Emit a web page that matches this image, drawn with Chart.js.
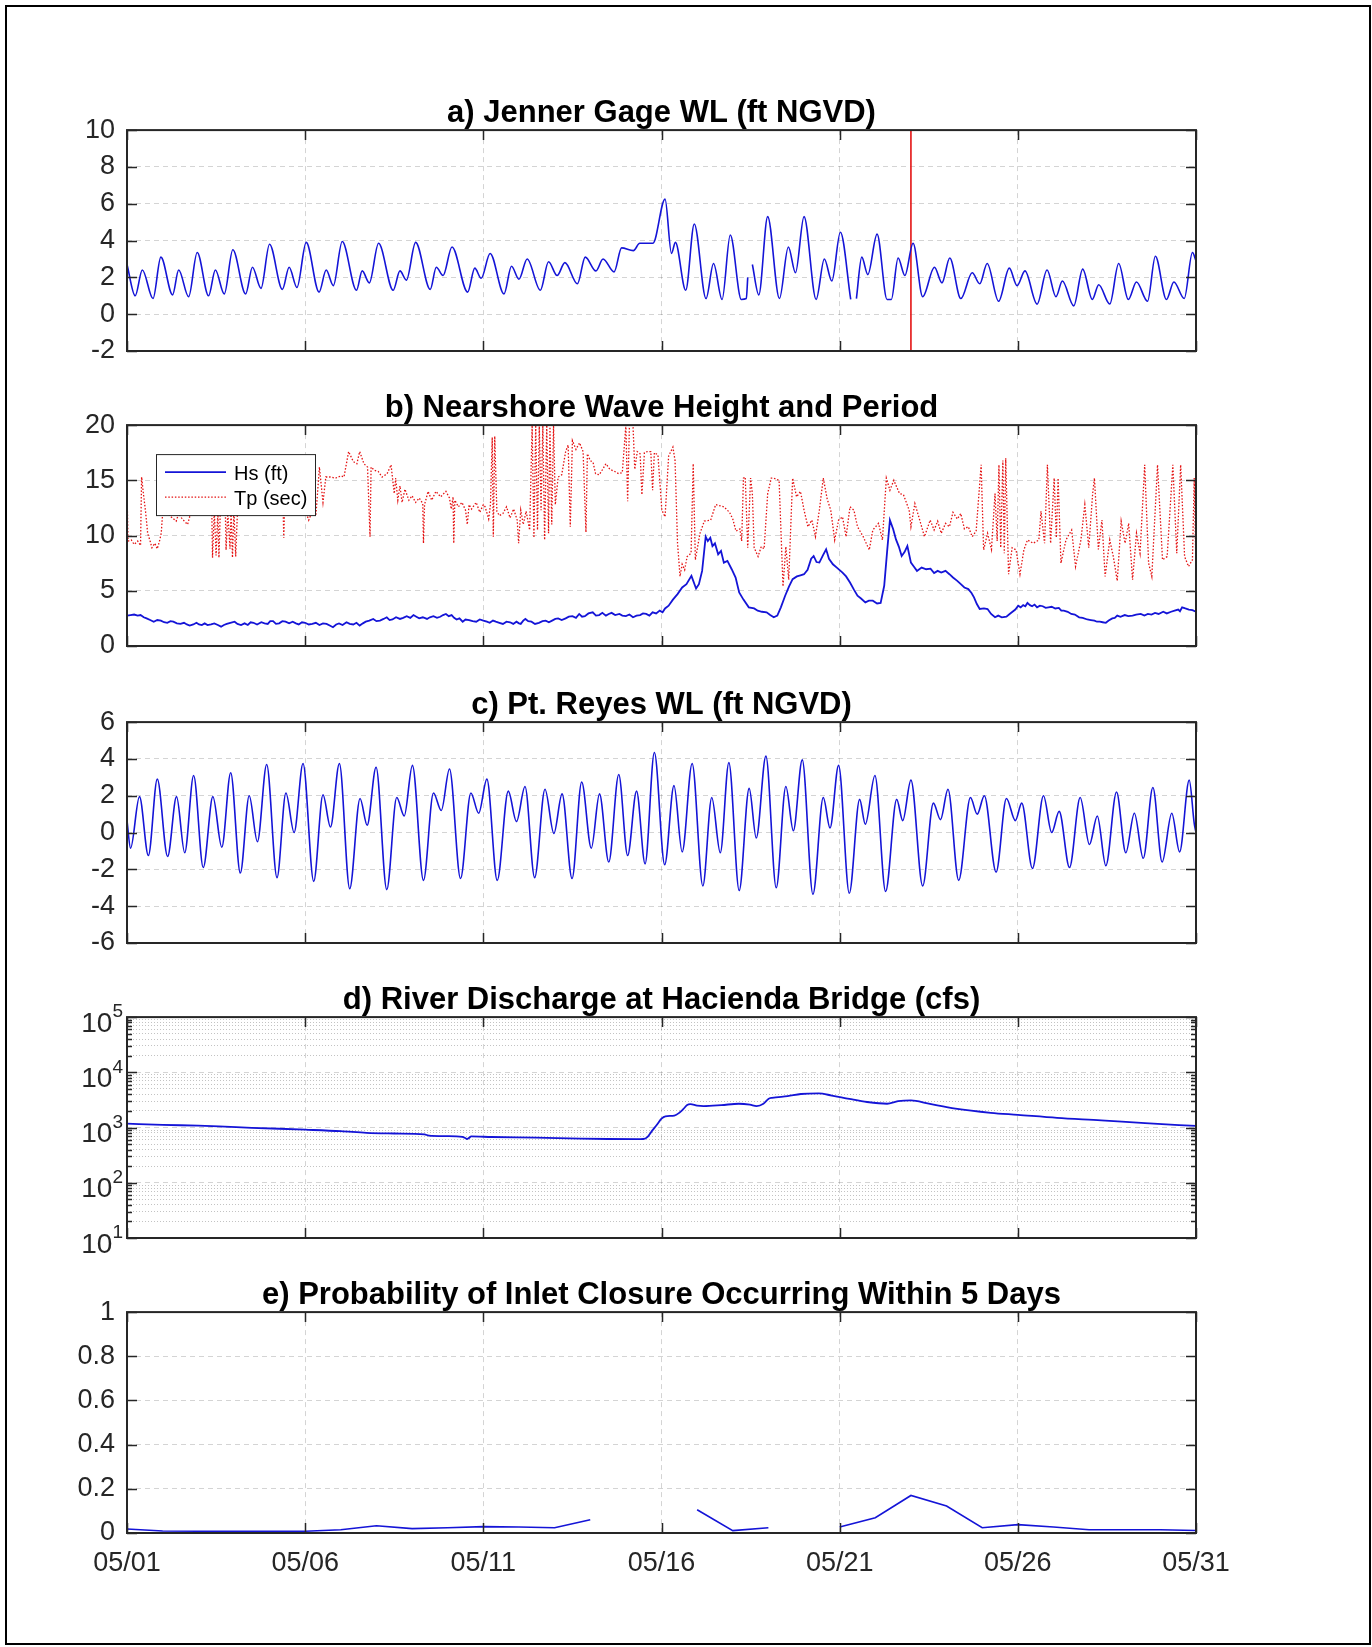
<!DOCTYPE html>
<html>
<head>
<meta charset="utf-8">
<script src="https://cdn.jsdelivr.net/npm/chart.js@4.4.1/dist/chart.umd.min.js"></script>
<style>
  body { margin: 0; background: #fff; }
  #page { position: relative; width: 1372px; height: 1647px; background: #fff; overflow: hidden; }
  #frame { position: absolute; left: 5px; top: 5px; width: 1366px; height: 1640px; border: 2px solid #000; box-sizing: border-box; }
  canvas { position: absolute; left: 0; }
</style>
</head>
<body>
<div id="page"><div id="frame"></div></div>
<script>
// --- data (days since 05/01 00:00) ---
const dateTickDays = [0, 5, 10, 15, 20, 25, 30];
const dateTickLabels = ['05/01', '05/06', '05/11', '05/16', '05/21', '05/26', '05/31'];

const panelTitles = [
  'a) Jenner Gage WL (ft NGVD)',
  'b) Nearshore Wave Height and Period',
  'c) Pt. Reyes WL (ft NGVD)',
  'd) River Discharge at Hacienda Bridge (cfs)',
  'e) Probability of Inlet Closure Occurring Within 5 Days'
];

const wlTicks = [-2, 0, 2, 4, 6, 8, 10];
const waveTicks = [0, 5, 10, 15, 20];
const reyesTicks = [-6, -4, -2, 0, 2, 4, 6];
const dischargeDecades = [10, 100, 1000, 10000, 100000];
const dischargeExponents = ['1', '2', '3', '4', '5'];
const probTicks = [0, 0.2, 0.4, 0.6, 0.8, 1];
const probTickLabels = ['0', '0.2', '0.4', '0.6', '0.8', '1'];

const closureDay = 22;
const waveLegendLabels = ['Hs (ft)', 'Tp (sec)'];

// a) Jenner gage water level, tidal highs/lows
const jennerWL = [
  [0.00,2.7],[0.23,1.0],[0.43,2.4],[0.73,0.85],[0.95,3.1],[1.28,1.05],[1.45,2.4],[1.73,0.95],
  [1.97,3.35],[2.29,1.0],[2.48,2.4],[2.73,1.1],[2.97,3.5],[3.33,1.1],[3.52,2.55],[3.76,1.4],
  [4.00,3.8],[4.36,1.35],[4.55,2.55],[4.77,1.45],[5.03,3.9],[5.39,1.2],[5.59,2.4],[5.79,1.55],
  [6.04,3.95],[6.44,1.3],[6.60,2.35],[6.80,1.7],[7.06,3.85],[7.47,1.3],[7.66,2.35],[7.84,1.85],
  [8.10,3.9],[8.51,1.35],[8.68,2.55],[8.87,2.1],[9.12,3.65],[9.56,1.2],[9.76,2.5],[9.94,1.95],
  [10.19,3.3],[10.58,1.1],[10.79,2.6],[11.00,1.9],[11.23,3.0],[11.60,1.3],[11.83,2.85],[12.07,2.1],
  [12.29,2.8],[12.64,1.65],[12.86,3.1],[13.16,2.35],[13.36,3.0],[13.67,2.3],[13.88,3.6],[14.21,3.45],
  [14.39,3.85],[14.76,3.85],[15.10,6.25],[15.28,3.3],[15.39,3.9],[15.68,1.3],[15.92,4.9],[16.25,0.85],
  [16.46,2.75],[16.70,0.8],[16.93,4.3],[17.24,0.8],[17.38,0.85],[17.42,2.0],[17.48,null],
  [17.55,2.7],[17.73,1.05],[17.98,5.3],[18.31,0.85],[18.56,3.65],[18.76,2.25],[19.00,5.3],[19.34,0.8],
  [19.57,3.0],[19.78,1.8],[20.02,4.45],[20.31,0.8],[20.39,null],
  [20.47,0.85],[20.62,3.1],[20.79,2.15],[21.05,4.35],[21.33,0.8],[21.45,0.8],[21.64,3.05],[21.83,2.1],
  [22.06,3.85],[22.33,0.95],[22.66,2.55],[22.87,1.7],[23.09,3.05],[23.40,0.85],[23.72,2.25],[23.93,1.65],
  [24.14,2.75],[24.46,0.7],[24.76,2.5],[24.98,1.55],[25.20,2.35],[25.54,0.55],[25.82,2.4],[26.07,0.95],
  [26.25,1.8],[26.57,0.45],[26.82,2.45],[27.09,0.8],[27.27,1.6],[27.58,0.55],[27.83,2.75],[28.10,0.8],
  [28.33,1.75],[28.64,0.7],[28.86,3.15],[29.17,0.8],[29.38,1.75],[29.67,0.85],[29.90,3.35],[30.00,2.9]
];

// b) significant wave height (ft)
const hsFeet = [
  [0.0,2.75],[0.1,2.8],[0.2,2.85],[0.3,2.75],[0.38,2.8],[0.47,2.6],[0.55,2.5],[0.65,2.35],[0.75,2.2],
  [0.85,2.35],[0.95,2.3],[1.04,2.15],[1.13,2.1],[1.22,2.25],[1.3,2.2],[1.4,2.05],[1.5,2.0],[1.6,2.1],
  [1.68,1.95],[1.76,1.85],[1.86,1.95],[1.95,2.1],[2.02,1.95],[2.1,1.9],[2.18,2.05],[2.26,1.9],[2.36,1.95],
  [2.45,2.05],[2.55,1.9],[2.64,1.75],[2.72,1.9],[2.8,2.0],[2.9,2.1],[3.02,2.2],[3.1,2.0],[3.2,1.9],
  [3.3,2.05],[3.39,1.9],[3.47,2.15],[3.55,2.1],[3.65,1.95],[3.77,2.15],[3.86,2.05],[3.95,2.0],[4.02,2.25],
  [4.1,2.25],[4.18,2.0],[4.27,2.05],[4.36,2.25],[4.45,2.2],[4.55,2.05],[4.65,2.2],[4.74,2.05],[4.82,1.95],
  [4.91,2.15],[5.0,2.1],[5.1,1.95],[5.2,2.0],[5.3,2.1],[5.4,1.9],[5.5,2.05],[5.6,2.0],[5.69,1.85],
  [5.78,1.7],[5.87,1.95],[5.95,2.05],[6.05,1.9],[6.16,2.15],[6.25,2.0],[6.35,1.95],[6.44,2.1],[6.53,1.85],
  [6.62,2.05],[6.7,2.2],[6.8,2.3],[6.91,2.45],[7.0,2.25],[7.1,2.3],[7.2,2.45],[7.29,2.6],[7.37,2.35],
  [7.45,2.4],[7.55,2.6],[7.66,2.45],[7.75,2.55],[7.85,2.7],[7.95,2.55],[8.04,2.8],[8.12,2.65],[8.2,2.5],
  [8.3,2.6],[8.42,2.45],[8.5,2.6],[8.6,2.7],[8.7,2.55],[8.79,2.65],[8.87,2.8],[8.95,2.9],[9.03,2.7],
  [9.11,2.8],[9.18,2.55],[9.25,2.4],[9.33,2.5],[9.42,2.2],[9.5,2.4],[9.6,2.35],[9.7,2.25],[9.8,2.2],
  [9.9,2.4],[10.0,2.3],[10.1,2.2],[10.18,2.1],[10.27,2.3],[10.35,2.2],[10.45,2.1],[10.55,2.0],[10.65,2.2],
  [10.75,2.15],[10.84,2.0],[10.93,2.2],[11.0,2.05],[11.05,2.0],[11.12,2.3],[11.18,2.45],[11.26,2.25],
  [11.35,2.2],[11.45,2.0],[11.56,2.1],[11.66,2.25],[11.75,2.3],[11.84,2.15],[11.93,2.3],[12.02,2.45],
  [12.1,2.5],[12.2,2.35],[12.31,2.5],[12.4,2.65],[12.5,2.7],[12.6,2.55],[12.69,2.9],[12.77,2.65],
  [12.85,2.7],[12.95,2.95],[13.07,3.05],[13.16,2.75],[13.25,2.8],[13.34,3.0],[13.44,2.75],[13.52,2.9],
  [13.6,3.0],[13.7,2.8],[13.82,2.9],[13.9,2.75],[14.0,2.7],[14.1,2.85],[14.2,2.6],[14.3,2.75],[14.4,2.8],
  [14.48,2.95],[14.57,2.9],[14.66,2.75],[14.75,3.05],[14.85,2.95],[14.95,3.2],[15.03,3.05],[15.1,3.4],
  [15.2,3.65],[15.32,4.2],[15.45,4.7],[15.58,5.3],[15.7,5.6],[15.84,6.35],[15.97,5.2],[16.05,5.6],
  [16.14,6.8],[16.24,9.9],[16.3,9.5],[16.37,9.8],[16.43,9.05],[16.5,9.3],[16.59,8.3],[16.67,8.6],
  [16.75,7.55],[16.85,7.7],[16.97,6.95],[17.08,6.2],[17.18,4.85],[17.3,4.2],[17.45,3.5],[17.6,3.4],
  [17.7,3.2],[17.82,3.1],[17.95,3.05],[18.05,2.8],[18.15,2.6],[18.25,2.75],[18.35,3.5],[18.47,4.55],
  [18.58,5.4],[18.68,6.05],[18.8,6.3],[18.9,6.4],[19.0,6.5],[19.1,6.9],[19.2,7.9],[19.27,8.15],
  [19.35,7.6],[19.43,7.55],[19.53,8.2],[19.62,8.75],[19.7,7.9],[19.81,7.4],[19.92,7.1],[20.08,6.65],
  [20.18,6.3],[20.29,5.75],[20.4,5.1],[20.5,4.55],[20.6,4.3],[20.72,3.95],[20.82,4.1],[20.93,4.1],
  [21.05,3.85],[21.15,3.9],[21.25,5.45],[21.33,8.5],[21.41,11.4],[21.5,10.6],[21.58,9.65],[21.66,9.0],
  [21.74,8.15],[21.82,8.5],[21.9,9.05],[22.0,7.55],[22.08,7.2],[22.17,6.8],[22.3,7.1],[22.43,6.95],
  [22.55,7.0],[22.65,6.6],[22.75,6.8],[22.85,6.65],[22.97,6.8],[23.08,6.5],[23.18,6.2],[23.3,5.9],
  [23.4,5.6],[23.5,5.3],[23.61,5.15],[23.7,4.8],[23.77,4.4],[23.85,3.8],[23.93,3.35],[24.05,3.4],
  [24.15,3.35],[24.25,2.9],[24.36,2.6],[24.45,2.75],[24.55,2.6],[24.68,2.65],[24.77,2.9],[24.85,3.1],
  [24.93,3.3],[25.01,3.65],[25.08,3.5],[25.15,3.7],[25.21,3.6],[25.27,3.9],[25.34,3.7],[25.4,3.6],
  [25.47,3.75],[25.54,3.5],[25.62,3.65],[25.7,3.6],[25.78,3.45],[25.86,3.5],[25.95,3.55],[26.05,3.4],
  [26.15,3.45],[26.22,3.2],[26.29,3.2],[26.4,3.1],[26.5,2.9],[26.6,2.85],[26.72,2.6],[26.82,2.55],
  [26.95,2.4],[27.05,2.35],[27.15,2.3],[27.22,2.2],[27.3,2.2],[27.38,2.15],[27.47,2.1],[27.55,2.3],
  [27.65,2.5],[27.72,2.55],[27.79,2.75],[27.88,2.65],[28.0,2.8],[28.1,2.7],[28.22,2.75],[28.32,2.85],
  [28.45,2.9],[28.55,2.75],[28.65,2.9],[28.75,2.85],[28.85,3.0],[28.95,2.9],[29.08,3.1],[29.18,2.95],
  [29.3,3.1],[29.4,3.2],[29.5,3.3],[29.55,3.15],[29.61,3.5],[29.7,3.4],[29.8,3.3],[29.9,3.25],[30.0,3.1]
];

// b) peak wave period (sec)
const tpSeconds = [
  [0.0,14.0],[0.03,9.5],[0.12,9.6],[0.2,9.2],[0.3,9.5],[0.38,9.1],[0.41,15.3],[0.46,13.8],[0.52,12.2],
  [0.58,10.2],[0.64,9.6],[0.7,8.9],[0.78,9.3],[0.85,8.8],[0.92,9.6],[0.96,10.2],[1.0,12.0],[1.1,12.4],
  [1.2,11.8],[1.38,11.3],[1.45,12.0],[1.55,11.5],[1.7,11.0],[1.8,12.2],[2.0,12.6],[2.2,12.5],[2.38,12.2],
  [2.4,8.0],[2.45,12.3],[2.5,8.2],[2.55,12.2],[2.58,8.0],[2.62,12.4],[2.76,12.3],[2.78,8.7],[2.83,12.1],
  [2.89,8.8],[2.92,12.2],[2.96,8.0],[3.0,12.4],[3.05,8.1],[3.1,12.2],[3.14,12.5],[3.4,12.6],[3.7,12.8],
  [4.0,13.0],[4.3,12.7],[4.38,12.7],[4.4,9.8],[4.42,12.6],[4.7,12.5],[5.0,12.3],[5.1,11.4],[5.2,12.2],
  [5.3,11.8],[5.4,16.2],[5.5,13.0],[5.58,15.3],[5.7,15.3],[5.85,15.2],[6.0,15.4],[6.09,15.3],[6.22,17.6],
  [6.35,16.7],[6.45,16.5],[6.53,17.6],[6.65,16.5],[6.75,16.2],[6.82,9.9],[6.85,16.2],[6.95,15.9],
  [7.05,15.8],[7.16,15.3],[7.3,15.6],[7.41,16.4],[7.5,13.8],[7.54,15.2],[7.6,13.2],[7.66,14.5],[7.72,13.0],
  [7.8,14.2],[7.91,13.2],[8.0,13.6],[8.1,13.0],[8.2,13.4],[8.3,12.9],[8.32,9.3],[8.35,12.8],[8.45,14.0],
  [8.55,13.2],[8.67,14.0],[8.8,13.5],[8.95,14.0],[9.05,13.4],[9.1,12.4],[9.15,13.5],[9.17,9.3],[9.2,13.2],
  [9.3,12.6],[9.4,13.0],[9.5,12.3],[9.55,11.0],[9.6,12.8],[9.67,12.4],[9.8,13.0],[9.9,12.1],[10.0,12.8],
  [10.05,12.6],[10.15,11.5],[10.2,12.8],[10.25,18.9],[10.28,9.9],[10.32,19.0],[10.38,12.2],[10.45,11.8],
  [10.55,12.0],[10.65,12.6],[10.75,11.6],[10.85,12.4],[10.95,11.4],[10.99,9.3],[11.05,12.3],[11.12,11.0],
  [11.2,12.2],[11.3,10.5],[11.37,20],[11.42,9.8],[11.47,20],[11.52,10.5],[11.57,20],[11.62,12.3],
  [11.67,20],[11.72,9.6],[11.78,20],[11.83,10.2],[11.87,20],[11.92,11.0],[11.97,20],[12.02,12.8],
  [12.1,15.3],[12.2,15.5],[12.31,17.6],[12.38,18.2],[12.44,10.8],[12.5,18.6],[12.6,17.8],[12.7,18.4],
  [12.8,17.6],[12.88,10.3],[12.92,17.4],[13.0,16.8],[13.08,16.6],[13.15,15.6],[13.25,15.5],[13.35,16.0],
  [13.44,16.5],[13.55,16.0],[13.69,15.8],[13.8,15.6],[13.9,15.7],[14.0,20],[14.05,13.1],[14.1,20],
  [14.2,20],[14.25,16.0],[14.32,17.6],[14.4,17.4],[14.45,13.7],[14.52,17.5],[14.6,17.6],[14.7,17.6],
  [14.75,14.1],[14.8,17.5],[14.9,17.3],[15.01,12.3],[15.1,11.7],[15.2,17.2],[15.26,17.6],[15.32,18.0],
  [15.38,16.8],[15.45,9.3],[15.52,6.3],[15.58,7.4],[15.65,6.9],[15.72,8.1],[15.83,8.4],[15.89,16.5],
  [15.95,7.8],[16.08,10.2],[16.2,11.3],[16.38,11.4],[16.52,12.8],[16.75,12.6],[16.91,12.1],[17.0,11.5],
  [17.09,10.4],[17.2,10.6],[17.25,9.5],[17.3,15.2],[17.35,15.3],[17.42,8.9],[17.5,15.2],[17.55,13.8],
  [17.6,8.9],[17.71,8.1],[17.8,9.0],[17.88,8.8],[17.98,13.8],[18.08,15.2],[18.15,15.2],[18.3,15.0],
  [18.41,5.4],[18.49,9.0],[18.57,6.0],[18.68,15.2],[18.79,13.5],[18.9,14.0],[19.0,12.3],[19.11,10.8],
  [19.22,11.4],[19.32,9.9],[19.43,12.3],[19.54,15.2],[19.65,13.3],[19.75,12.3],[19.86,9.6],[19.97,11.4],
  [20.08,11.7],[20.18,9.9],[20.29,12.6],[20.4,12.3],[20.5,10.8],[20.66,9.9],[20.83,8.7],[20.93,10.5],
  [21.09,11.1],[21.2,9.6],[21.31,15.2],[21.41,14.1],[21.52,15.0],[21.68,13.8],[21.79,13.7],[21.95,12.3],
  [22.0,10.8],[22.11,12.9],[22.22,11.7],[22.38,9.9],[22.54,11.4],[22.65,10.5],[22.75,11.3],[22.85,10.2],
  [22.97,11.1],[23.08,10.8],[23.18,12.1],[23.3,11.5],[23.4,12.0],[23.5,10.6],[23.61,10.8],[23.72,9.9],
  [23.83,10.4],[23.97,16.4],[24.04,8.7],[24.15,10.2],[24.26,8.75],[24.36,13.8],[24.42,9.5],[24.47,16.4],
  [24.52,8.9],[24.58,16.8],[24.62,8.4],[24.66,17.0],[24.74,6.5],[24.84,8.9],[24.95,8.7],[25.06,6.5],
  [25.17,8.7],[25.27,9.6],[25.43,9.3],[25.59,9.6],[25.65,12.2],[25.75,9.3],[25.83,16.4],[25.92,9.3],
  [26.02,15.2],[26.08,9.8],[26.13,15.2],[26.21,7.5],[26.35,9.6],[26.51,10.5],[26.62,7.2],[26.77,9.6],
  [26.88,12.8],[26.99,8.9],[27.1,13.8],[27.15,15.2],[27.26,8.75],[27.36,11.4],[27.45,6.3],[27.58,9.6],
  [27.68,8.1],[27.79,5.9],[27.9,11.3],[28.01,9.3],[28.11,11.1],[28.22,6.0],[28.33,10.2],[28.43,8.4],
  [28.56,16.4],[28.67,7.5],[28.76,6.3],[28.92,16.4],[29.06,7.8],[29.19,8.1],[29.35,16.4],[29.46,8.4],
  [29.57,16.4],[29.68,8.1],[29.79,7.2],[29.9,7.8],[29.95,15.2],[30.0,6.9]
];

// c) Pt. Reyes water level, tidal highs/lows
const reyesWL = [
  [0.0,0.65],[0.10,-0.85],[0.35,1.95],[0.60,-1.25],[0.85,2.9],[1.14,-1.3],[1.39,1.95],[1.62,-1.1],
  [1.87,3.1],[2.14,-1.9],[2.41,1.95],[2.66,-0.8],[2.91,3.25],[3.18,-2.2],[3.43,2.0],[3.66,-0.5],
  [3.92,3.7],[4.21,-2.45],[4.46,2.15],[4.69,0.0],[4.94,3.75],[5.24,-2.65],[5.50,2.05],[5.71,0.3],
  [5.96,3.75],[6.25,-3.05],[6.54,1.85],[6.74,0.4],[6.99,3.55],[7.29,-3.1],[7.57,1.9],[7.78,0.9],
  [8.01,3.65],[8.32,-2.6],[8.60,2.15],[8.82,1.2],[9.05,3.45],[9.36,-2.5],[9.65,2.15],[9.87,1.05],
  [10.10,2.9],[10.39,-2.6],[10.70,2.25],[10.93,0.6],[11.17,2.5],[11.44,-2.45],[11.73,2.35],[11.98,-0.05],
  [12.21,2.1],[12.49,-2.5],[12.76,2.75],[13.03,-0.85],[13.26,2.1],[13.52,-1.6],[13.80,3.15],[14.05,-1.25],
  [14.30,2.25],[14.54,-1.7],[14.80,4.35],[15.09,-1.75],[15.35,2.55],[15.58,-1.05],[15.86,3.75],[16.16,-2.9],
  [16.41,1.9],[16.65,-1.1],[16.89,3.8],[17.18,-3.15],[17.46,2.4],[17.66,-0.3],[17.93,4.15],[18.22,-3.0],
  [18.49,2.5],[18.70,0.1],[18.95,3.95],[19.25,-3.35],[19.54,1.9],[19.73,0.25],[19.97,3.65],[20.27,-3.3],
  [20.56,1.8],[20.72,0.45],[20.99,3.1],[21.29,-3.2],[21.60,1.8],[21.77,0.65],[22.00,2.85],[22.33,-2.9],
  [22.63,1.6],[22.83,0.7],[23.04,2.35],[23.34,-2.6],[23.67,1.9],[23.86,1.0],[24.06,2.0],[24.39,-2.15],
  [24.68,1.85],[24.93,0.65],[25.11,1.6],[25.41,-1.95],[25.72,2.0],[25.95,0.0],[26.16,1.15],[26.45,-1.9],
  [26.75,1.9],[27.01,-0.65],[27.23,0.9],[27.47,-1.8],[27.77,2.2],[28.03,-1.1],[28.27,1.05],[28.52,-1.4],
  [28.79,2.45],[29.05,-1.6],[29.32,1.05],[29.54,-1.05],[29.81,2.85],[29.95,0.5],[30.0,0.0]
];

// d) river discharge (cfs)
const dischargeCfs = [
  [0,1175],[1,1120],[2,1080],[2.58,1050],[3.5,990],[5.0,915],[6,860],[6.72,800],[7.5,780],[8.35,750],
  [8.47,715],[8.97,700],[9.41,680],[9.5,640],[9.54,620],[9.6,650],[9.66,690],[10.23,675],[11.5,655],
  [12.73,630],[13.5,620],[14.3,615],[14.49,620],[14.61,680],[14.75,900],[14.86,1100],[15.0,1450],
  [15.11,1600],[15.36,1650],[15.5,1850],[15.61,2150],[15.72,2550],[15.81,2650],[16.0,2500],[16.18,2450],
  [16.68,2550],[17.17,2700],[17.48,2600],[17.67,2450],[17.86,2700],[18.0,3300],[18.1,3450],[18.54,3700],
  [18.91,4050],[19.41,4150],[19.78,3800],[20.27,3300],[20.77,2900],[21.33,2700],[21.64,3000],[22.0,3100],
  [22.5,2700],[23.25,2200],[24.24,1850],[25.0,1700],[26.1,1500],[27.34,1350],[28.57,1200],[30,1070]
];

// e) daily probability of closure within 5 days
const closureProb = [
  [0,0.018],[1,0.009],[2,0.008],[3,0.008],[4,0.008],[5,0.008],[6,0.015],[7,0.033],[8,0.02],[9,0.024],
  [10,0.029],[11,0.027],[12,0.024],[13,0.06],[14,null],[15,null],[16,0.105],[17,0.011],[18,0.024],
  [19,null],[20,0.027],[21,0.069],[22,0.17],[23,0.122],[24,0.024],[25,0.038],[26,0.027],[27,0.015],
  [28,0.015],[29,0.015],[30,0.011]
];

// --- styling / layout ---
const FONT = "'Liberation Sans', Arial, Helvetica, sans-serif";
const INK = '#262626';
const GRID = 'rgba(38,38,38,0.2)';
const BLUE = 'rgb(20,20,215)';
const RED = 'rgb(228,18,18)';
const TICK_SIZE = 27;

const plotLeft = 127;
const plotRight = 1196;
const plotHeight = 221;
const titleBlock = 38;
const panelTops = [130, 425, 722, 1017, 1312];

const toXY = pairs => pairs.map(([x, y]) => ({ x, y }));

// MATLAB-like box with inward tick marks
const matlabBox = {
  id: 'matlabBox',
  afterDraw(chart, args, opts) {
    const { ctx, chartArea: a, scales } = chart;
    ctx.save();
    ctx.strokeStyle = INK;
    ctx.lineWidth = 1.5;
    ctx.beginPath();
    scales.x.ticks.forEach(t => {
      const px = Math.round(scales.x.getPixelForValue(t.value)) + 0.5;
      ctx.moveTo(px, a.top); ctx.lineTo(px, a.top + 10);
      ctx.moveTo(px, a.bottom); ctx.lineTo(px, a.bottom - 10);
    });
    scales.y.ticks.forEach(t => {
      const py = Math.round(scales.y.getPixelForValue(t.value)) + 0.5;
      const len = opts.isMajor && !opts.isMajor(t.value) ? 5 : 10;
      ctx.moveTo(a.left, py); ctx.lineTo(a.left + len, py);
      ctx.moveTo(a.right, py); ctx.lineTo(a.right - len, py);
    });
    ctx.stroke();
    ctx.lineWidth = 2;
    ctx.strokeRect(a.left, a.top, a.width, a.height);
    ctx.restore();
  }
};

// superscript labels 10^n for the log axis
const logLabels = {
  id: 'logLabels',
  afterDraw(chart) {
    const { ctx, scales: { y } } = chart;
    ctx.save();
    ctx.fillStyle = INK;
    ctx.textAlign = 'right';
    ctx.textBaseline = 'middle';
    dischargeDecades.forEach((d, i) => {
      const py = y.getPixelForValue(d);
      ctx.font = '19px ' + FONT;
      const ew = ctx.measureText(dischargeExponents[i]).width;
      ctx.fillText(dischargeExponents[i], 123, py - 5);
      ctx.font = '28px ' + FONT;
      ctx.fillText('10', 123 - ew, py + 7);
    });
    ctx.restore();
  }
};

// boxed legend in the upper left of panel b
const waveLegend = {
  id: 'waveLegend',
  afterDraw(chart) {
    const { ctx, chartArea: a } = chart;
    const x0 = a.left + 29, y0 = a.top + 29;
    ctx.save();
    ctx.fillStyle = '#fff';
    ctx.fillRect(x0, y0, 159, 61);
    ctx.strokeStyle = INK;
    ctx.lineWidth = 1;
    ctx.strokeRect(x0 + 0.5, y0 + 0.5, 159, 61);
    chart.data.datasets.forEach((ds, i) => {
      const ly = y0 + 18 + i * 25;
      ctx.strokeStyle = ds.borderColor;
      ctx.lineWidth = ds.borderWidth;
      ctx.setLineDash(ds.borderDash || []);
      ctx.beginPath();
      ctx.moveTo(x0 + 9, ly); ctx.lineTo(x0 + 70, ly);
      ctx.stroke();
      ctx.setLineDash([]);
      ctx.fillStyle = '#000';
      ctx.font = '20px ' + FONT;
      ctx.textBaseline = 'middle';
      ctx.fillText(waveLegendLabels[i], x0 + 78, ly + 2);
    });
    ctx.restore();
  }
};

function dateAxis(showLabels) {
  return {
    type: 'linear', min: 0, max: 30,
    afterBuildTicks: s => { s.ticks = dateTickDays.map(v => ({ value: v })); },
    afterFit: s => { s.height = showLabels ? 70 : 30; },
    grid: { color: GRID, lineWidth: 1, drawTicks: false },
    border: { display: false, dash: [5, 4] },
    ticks: {
      display: showLabels, autoSkip: false, maxRotation: 0, padding: 14,
      color: INK, font: { family: FONT, size: TICK_SIZE },
      callback: v => dateTickLabels[dateTickDays.indexOf(v)]
    }
  };
}

function valueAxis(min, max, ticks, labels) {
  return {
    type: 'linear', min, max,
    afterBuildTicks: s => { s.ticks = ticks.map(v => ({ value: v })); },
    afterFit: s => { s.width = plotLeft; },
    grid: { color: GRID, lineWidth: 1, drawTicks: false },
    border: { display: false, dash: [5, 4] },
    ticks: {
      padding: 12, color: INK, font: { family: FONT, size: TICK_SIZE },
      callback: v => labels ? labels[ticks.indexOf(v)] : String(v)
    }
  };
}

function lineSet(label, pairs, extra) {
  return Object.assign({
    label, data: toXY(pairs), borderColor: BLUE, borderWidth: 1.6,
    pointRadius: 0, fill: false, spanGaps: false
  }, extra || {});
}

function makePanel(i, datasets, yScale, extraPlugins, boxOpts) {
  const last = i === panelTitles.length - 1;
  const canvas = document.createElement('canvas');
  canvas.width = 1372;
  canvas.height = titleBlock + plotHeight + (last ? 70 : 30);
  canvas.style.top = (panelTops[i] - titleBlock) + 'px';
  document.getElementById('page').appendChild(canvas);
  return new Chart(canvas, {
    type: 'line',
    data: { datasets },
    options: {
      responsive: false, animation: false,
      layout: { padding: { left: 0, right: 1372 - plotRight, top: 0, bottom: 0 } },
      scales: { x: dateAxis(last), y: yScale },
      plugins: {
        legend: { display: false },
        tooltip: { enabled: false },
        title: {
          display: true, text: panelTitles[i], color: '#000', fullSize: false,
          padding: { top: 4, bottom: 0 },
          font: { family: FONT, size: 31, weight: 'bold', lineHeight: 1.1 }
        },
        matlabBox: boxOpts || {}
      }
    },
    plugins: [matlabBox].concat(extraPlugins || [])
  });
}

// a) Jenner gage
makePanel(0, [
  lineSet('Jenner WL', jennerWL, { cubicInterpolationMode: 'monotone' }),
  lineSet('Closure', [[closureDay, wlTicks[0]], [closureDay, wlTicks[wlTicks.length - 1]]], { borderColor: RED, borderWidth: 1.6 })
], valueAxis(-2, 10, wlTicks));

// b) waves
makePanel(1, [
  lineSet(waveLegendLabels[0], hsFeet, { borderWidth: 1.8 }),
  lineSet(waveLegendLabels[1], tpSeconds, { borderColor: RED, borderWidth: 1.3, borderDash: [1.5, 1.8] })
], valueAxis(0, 20, waveTicks), [waveLegend]);

// c) Pt. Reyes
makePanel(2, [
  lineSet('Pt. Reyes WL', reyesWL, { cubicInterpolationMode: 'monotone' })
], valueAxis(-6, 6, reyesTicks));

// d) discharge, log axis with minor grid
const dischargeGrid = dischargeDecades.flatMap(d => d === 100000 ? [d] : [1, 2, 3, 4, 5, 6, 7, 8, 9].map(m => m * d));
const isDecade = v => dischargeDecades.includes(v);
makePanel(3, [
  lineSet('Discharge', dischargeCfs, { cubicInterpolationMode: 'monotone', borderWidth: 1.8 })
], {
  type: 'logarithmic', min: 10, max: 100000,
  afterBuildTicks: s => { s.ticks = dischargeGrid.map(v => ({ value: v })); },
  afterFit: s => { s.width = plotLeft; },
  grid: { color: ctx => isDecade(ctx.tick.value) ? GRID : 'rgba(38,38,38,0.28)', lineWidth: 1, drawTicks: false },
  border: { display: false, dash: ctx => isDecade(ctx.tick.value) ? [5, 4] : [1, 2] },
  ticks: { display: false }
}, [logLabels], { isMajor: isDecade });

// e) probability
makePanel(4, [
  lineSet('Probability', closureProb, { borderWidth: 1.6 })
], valueAxis(0, 1, probTicks, probTickLabels));
</script>
</body>
</html>
